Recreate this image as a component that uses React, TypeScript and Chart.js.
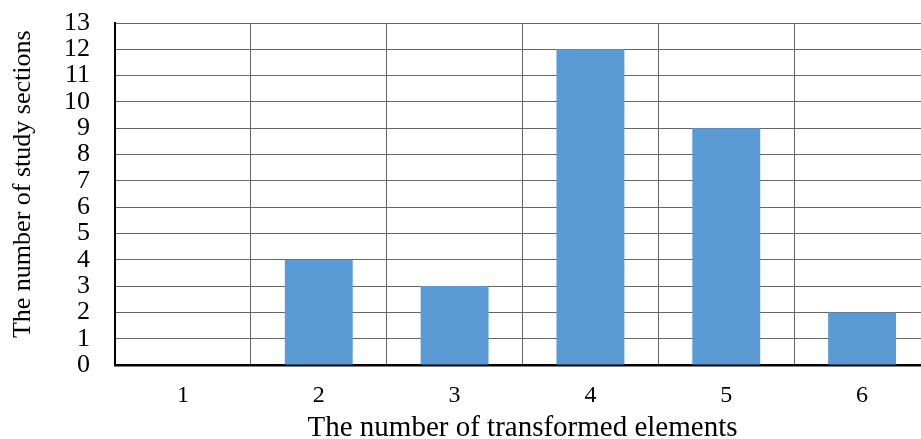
import React, { useEffect, useRef } from "react";
import { Chart, registerables } from "chart.js";

Chart.register(...registerables);

const categories = ["1", "2", "3", "4", "5", "6"];
const sectionCounts = [0, 4, 3, 12, 9, 2];
const yTicks = [0, 1, 2, 3, 4, 5, 6, 7, 8, 9, 10, 11, 12, 13];
const xTitle = "The number of transformed elements";
const yTitle = "The number of study sections";

export default function App() {
  const ref = useRef<HTMLCanvasElement | null>(null);
  useEffect(() => {
    if (!ref.current) return;
    const font = "'Liberation Serif', 'Times New Roman', serif";
    const chart = new Chart(ref.current, {
      type: "bar",
      data: {
        labels: categories,
        datasets: [
          {
            data: sectionCounts,
            backgroundColor: "#5B9BD5",
            borderWidth: 0,
            barPercentage: 0.5,
            categoryPercentage: 1,
          },
        ],
      },
      options: {
        animation: false,
        responsive: false,
        maintainAspectRatio: false,
        layout: { padding: { top: 23, right: 5, left: 0, bottom: 0 } },
        plugins: { legend: { display: false }, tooltip: { enabled: false } },
        scales: {
          x: {
            offset: true,
            grid: { offset: true, color: "#666", lineWidth: 1, drawTicks: false },
            border: { color: "#000", width: 2.5 },
            ticks: { color: "#000", font: { family: font, size: 24 }, padding: 16 },
            title: {
              display: true,
              text: xTitle,
              color: "#000",
              font: { family: font, size: 29 },
              padding: { top: 14, bottom: -7 },
            },
            afterFit: (s: any) => {
              s.height = 74;
              s.paddingLeft = 0;
              s.paddingRight = 0;
            },
          },
          y: {
            min: 0,
            max: 13,
            afterBuildTicks: (s: any) => {
              s.ticks = yTicks.map((v) => ({ value: v }));
            },
            grid: { color: "#666", lineWidth: 1, drawTicks: false },
            border: { color: "#000", width: 2 },
            ticks: {
              color: "#000",
              font: { family: font, size: 26 },
              padding: 25,
              stepSize: 1,
              autoSkip: false,
            },
            title: {
              display: true,
              text: "\u00A0\u00A0\u00A0" + yTitle,
              color: "#000",
              font: { family: font, size: 26 },
              padding: { top: 8, bottom: 0 },
            },
            afterFit: (s: any) => {
              s.width = 115;
              s.paddingTop = 0;
              s.paddingBottom = 0;
            },
          },
        },
      },
    });
    return () => chart.destroy();
  }, []);
  return (
    <div style={{ position: "absolute", left: 0, top: 0, width: 921, height: 439, overflow: "hidden", background: "#fff" }}>
      <canvas ref={ref} width={935} height={439} style={{ width: 935, height: 439, display: "block" }} />
    </div>
  );
}
